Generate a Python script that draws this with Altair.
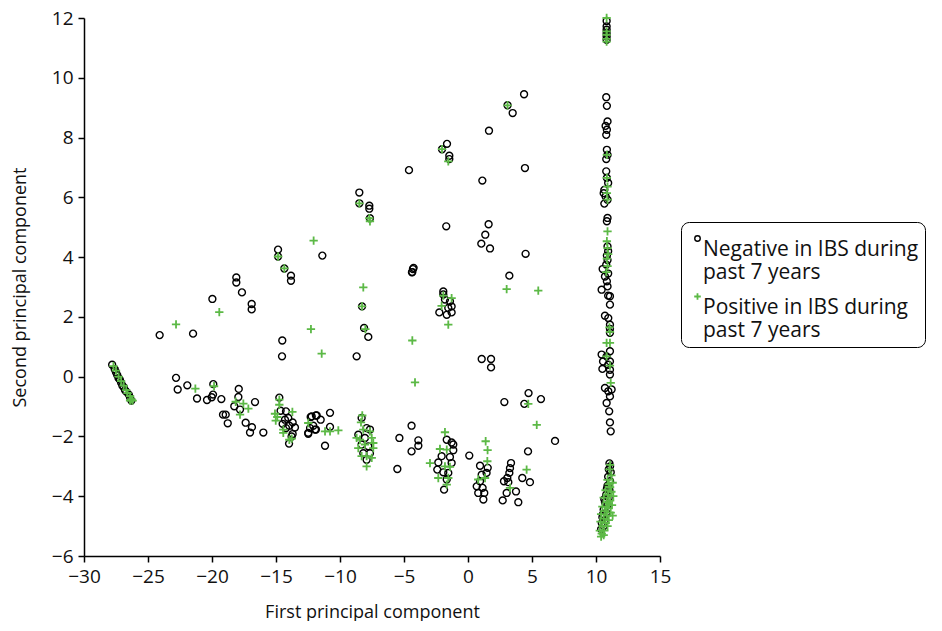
import altair as alt
import pandas as pd

neg_x = [
    -27.8, -27.6, -27.5, -27.4, -27.3, -27.2, -27.1, -27.0, -26.9, -26.8, -26.7, -26.5, -26.4, -26.3,
    -22.81, -22.68, -21.93, -21.17, -20.39, -20.02, -19.9, -19.92, -19.27, -19.14, -18.93, -18.77,
    -17.91, -17.94, -18.26, -17.81, -17.37, -16.88, -17.03, -15.99, -16.64,
    -14.64, -14.22, -14.3, -14.04, -13.7, -13.96, -14.22, -13.52, -13.7, -13.78, -13.98, -14.48, -14.74,
    -12.48, -12.34, -11.95, -11.88, -12.29, -12.21, -11.82, -11.51, -12.09, -11.88, -12.48, -10.78, -10.78, -11.17,
    -8.31, -7.92, -8.57, -8.05, -7.79, -8.18, -7.92, -7.66, -8.31, -7.66,
    -4.41, -5.36, -3.88, -3.88, -4.41, -5.52,
    -1.66, -1.28, -1.15, -2.06, -1.41, -2.32, -1.28, -2.4, -1.93, -1.54, -1.66, -1.87, -1.15,
    0.1,
    0.94, 1.54, 1.07, 0.68, 1.14, 0.8, 1.27, 1.2, 1.45, 0.94,
    3.36, 3.28, 3.23, 3.07, 2.81, 3.15, 3.02, 2.71, 3.75, 3.93, 4.24, 4.84, 4.69,
    4.73, 2.84, 4.4, 5.7, 6.8,
    -1.93, -1.8, -1.41, -1.28, -2.24, -1.66, -1.28, -1.54, -1.93,
    1.07, 1.8, 1.8,
    4.38, 3.49, 3.09, 1.64, -1.64, -2.03, -1.46, -1.46, -4.61, 1.12, 4.45, -1.7, 1.61, 1.35, 1.04, 1.72, 4.5,
    -4.25, -4.38, 3.23,
    -8.49, -8.49, -7.71, -7.71, -7.66, -14.84, -14.84, -18.1, -18.1, -17.66, -16.9, -16.9, -19.97, -24.09,
    -21.48, -13.83, -13.83, -14.35, -11.38, -14.51, -14.53, -8.7, -7.79, -8.12, -8.28, -4.35, -4.3,
    10.83, 10.83, 10.83, 10.83, 10.83, 10.83,
    10.8, 10.85, 10.9, 10.75, 10.85, 10.8, 10.85, 10.9, 10.8, 10.8, 10.85, 10.95, 10.65, 10.6, 10.75, 10.9,
    10.65, 10.9, 10.85, 10.9, 10.95, 10.85, 10.9, 10.8, 10.52, 10.95, 10.7, 10.85, 10.9, 10.95,
    10.44, 11.09, 11.09, 10.7, 10.96, 11.09, 11.09, 11.09, 11.09, 10.44, 10.55, 11.09, 10.5, 11.09, 10.83,
    10.96, 11.09, 10.7, 10.96, 11.22, 11.09, 10.83, 11.03, 11.09, 11.15,
    11.05, 11.1, 11.0, 11.15, 10.95, 11.1, 10.9, 11.05, 10.8, 11.0, 10.7, 10.9, 10.6, 10.8, 10.5, 10.7,
    10.45, 10.6, 10.4, 10.55, 10.65, 10.85,
]
neg_y = [
    0.4, 0.25, 0.15, 0.05, -0.05, -0.1, -0.2, -0.3, -0.35, -0.45, -0.5, -0.6, -0.7, -0.8,
    -0.04, -0.43, -0.29, -0.73, -0.78, -0.69, -0.25, -0.6, -0.75, -1.27, -1.27, -1.56,
    -0.41, -0.68, -0.99, -1.1, -1.54, -1.69, -1.87, -1.87, -0.85,
    -1.14, -1.16, -1.44, -1.38, -1.53, -1.64, -1.72, -1.7, -1.92, -2.0, -2.24, -1.58, -0.7,
    -1.88, -1.72, -1.77, -1.3, -1.35, -1.33, -1.3, -1.44, -1.64, -1.77, -1.91, -1.21, -1.68, -2.31,
    -1.38, -1.72, -1.94, -2.05, -2.33, -2.56, -2.78, -2.56, -2.27, -1.77,
    -1.64, -2.05, -2.13, -2.31, -2.5, -3.09,
    -2.11, -2.2, -2.46, -2.66, -2.69, -2.87, -2.89, -3.11, -3.2, -3.22, -3.44, -3.78, -2.27,
    -2.64,
    -2.98, -3.05, -3.28, -3.67, -3.72, -3.89, -3.89, -4.11, -3.22, -3.5,
    -2.89, -3.06, -3.22, -3.39, -3.5, -3.53, -3.89, -4.14, -3.84, -4.2, -3.39, -3.53, -2.5,
    -0.55, -0.85, -0.91, -0.75, -2.15,
    2.85, 2.58, 2.52, 2.35, 2.15, 2.07, 2.15, 2.3, 2.75,
    0.59, 0.59, 0.31,
    9.45, 8.82, 9.08, 8.23, 7.79, 7.61, 7.39, 7.28, 6.91, 6.56, 6.98, 5.03, 5.1, 4.75, 4.45, 4.29, 4.11,
    3.64, 3.49, 3.38,
    6.16, 5.8, 5.72, 5.62, 5.3, 4.25, 4.02, 3.32, 3.15, 2.82, 2.43, 2.25, 2.6, 1.39,
    1.44, 3.38, 3.21, 3.62, 4.05, 1.21, 0.68, 0.68, 1.33, 1.63, 2.35, 3.5, 3.6,
    11.72, 11.61, 11.49, 11.38, 11.27, 11.9,
    9.35, 9.06, 8.54, 8.39, 8.26, 8.09, 7.59, 7.42, 7.28, 6.87, 6.65, 6.48, 6.25, 6.14, 6.03, 5.92,
    5.79, 5.31, 5.2, 4.36, 4.2, 4.05, 3.9, 3.75, 3.6, 3.45, 3.35, 3.19, 3.02, 2.71,
    2.91, 2.69, 2.41, 2.04, 1.96, 1.74, 1.6, 1.47, 0.85, 0.74, 0.51, 0.51, 0.26, 0.23, 0.68,
    0.4, 0.07, -0.38, -0.49, -0.43, -0.66, -0.88, -1.16, -1.53, -1.83,
    -2.9, -3.0, -3.1, -3.2, -3.35, -3.5, -3.65, -3.8, -3.95, -4.05, -4.2, -4.3, -4.45, -4.55, -4.7, -4.8,
    -4.9, -5.0, -5.1, -4.6, -4.1, -3.75,
]

pos_x = [
    -27.7, -27.5, -27.3, -27.1, -26.9, -26.7, -26.6, -26.4, -26.3, -26.2, -26.4,
    -21.3, -19.84, -18.15, -17.55, -17.16, -17.81,
    -14.74, -14.74, -15.08, -14.9, -15.02, -14.43, -13.72, -13.77, -13.96, -14.43, -12.48,
    -11.17, -10.78, -10.13,
    -8.26, -8.36, -8.18, -8.7, -7.66, -7.52, -8.57, -8.05, -7.4, -8.31, -7.92, -7.52, -7.92, -8.44, -7.4,
    -4.14, -2.97,
    -1.8, -2.19, -1.66, -1.8, -1.41, -2.32, -1.54, -1.66,
    1.38, 1.53, 1.51, 0.8, 1.33,
    3.28, 4.58, 4.71, 5.37,
    -1.93, -1.28, -2.06, -1.54, 3.02, 5.49, -4.35,
    3.09, -2.03, -1.54, -8.49, -7.71, -7.66, -14.84, -14.35, -12.06, -19.43, -22.81, -8.18, -8.28, -8.02,
    -12.27, -11.43,
    10.83, 10.83, 10.83, 10.83, 10.83, 10.85, 10.85, 10.9, 10.85, 10.9, 10.9, 10.85, 10.9, 10.95, 10.85,
    10.9, 10.8, 11.05, 11.09, 10.83, 11.09, 10.83, 11.09, 11.15,
    11.1, 11.05, 11.2, 10.9, 11.3, 11.0, 10.75, 11.2, 10.95, 11.35, 10.6, 11.1, 10.85, 11.25, 10.5, 10.95,
    10.7, 11.15, 10.4, 10.85, 11.3, 10.6, 11.0, 10.35, 10.75, 10.5, 10.9, 10.3, 10.65, 10.45, 10.4, 10.6,
    11.1, 10.8, 11.0,
]
pos_y = [
    0.35, 0.2, 0.0, -0.15, -0.3, -0.45, -0.55, -0.65, -0.75, -0.8, -0.8,
    -0.4, -0.32, -0.84, -0.9, -1.07, -1.27,
    -0.77, -0.94, -1.24, -1.35, -1.47, -1.77, -1.18, -2.07, -2.11, -1.88, -1.55,
    -1.83, -1.83, -1.8,
    -1.3, -1.53, -1.77, -2.05, -1.83, -2.05, -2.39, -2.27, -2.39, -2.66, -2.66, -2.72, -3.0, -2.11, -2.22,
    -0.19, -2.89,
    -1.86, -2.42, -2.44, -3.0, -3.02, -3.39, -3.39, -3.61,
    -2.16, -2.46, -2.83, -3.44, -3.39,
    -3.72, -3.11, -0.91, -1.61,
    2.71, 2.63, 2.37, 1.74, 2.93, 2.88, 1.21,
    9.08, 7.61, 7.2, 5.8, 5.3, 5.2, 4.02, 3.62, 4.55, 2.16, 1.75, 2.99, 2.35, 1.59,
    1.59, 0.77,
    12.0, 11.55, 11.44, 11.21, 11.3, 7.42, 6.65, 6.36, 6.14, 5.92, 4.86, 4.53, 4.3, 4.1, 3.95,
    3.7, 3.5, 1.65, 1.5, 1.13, 1.13, 0.68, 0.37, -0.21,
    -2.95, -3.1, -3.3, -3.45, -3.55, -3.6, -3.8, -3.85, -3.95, -4.0, -4.05, -4.15, -4.2, -4.3, -4.35, -4.4,
    -4.5, -4.55, -4.6, -4.65, -4.65, -4.75, -4.8, -4.85, -4.9, -5.0, -5.0, -5.15, -5.15, -5.25, -5.35, -5.3,
    -3.7, -4.35, -4.25,
]

groups = ["Negative in IBS during|past 7 years", "Positive in IBS during|past 7 years"]

df = pd.concat([
    pd.DataFrame({"x": neg_x, "y": neg_y, "group": groups[0], "ord": 0}),
    pd.DataFrame({"x": pos_x, "y": pos_y, "group": groups[1], "ord": 1}),
], ignore_index=True)

FONT = "Open Sans"
plus_path = "M-1.2,0H1.2M0,-1.2V1.2"

chart = alt.Chart(df).mark_point(filled=False, size=48, opacity=1).encode(
    x=alt.X("x:Q", scale=alt.Scale(domain=[-30, 15], nice=False, zero=False),
            axis=alt.Axis(title="First principal component", values=list(range(-30, 16, 5)))),
    y=alt.Y("y:Q", scale=alt.Scale(domain=[-6, 12], nice=False, zero=False),
            axis=alt.Axis(title="Second principal component", values=list(range(-6, 13, 2)))),
    color=alt.Color("group:N", scale=alt.Scale(domain=groups, range=["#000000", "#5cb946"]),
                    legend=alt.Legend(orient="none", legendX=597, legendY=204, title=None,
                                      labelExpr="split(datum.label, '|')",
                                      labelFontSize=21, labelFont=FONT, labelLimit=400,
                                      labelColor="#111111", labelBaseline="top",
                                      labelOffset=alt.ExprRef(expr="-5"),
                                      symbolSize=30, symbolStrokeWidth=1.2,
                                      strokeColor="#000000", cornerRadius=8, padding=6,
                                      rowPadding=3)),
    shape=alt.Shape("group:N", scale=alt.Scale(domain=groups, range=["circle", plus_path])),
    strokeWidth=alt.StrokeWidth("group:N", scale=alt.Scale(domain=groups, range=[1.4, 1.8]),
                                legend=None),
    order=alt.Order("ord:Q"),
).properties(
    width=576, height=538,
    autosize=alt.AutoSizeParams(type="none"),
    padding={"left": 76, "top": 10, "right": 274, "bottom": 65},
).configure_view(strokeWidth=0).configure_axis(
    grid=False, domainColor="#000000", domainWidth=1.5, tickColor="#000000", tickWidth=1.5,
    tickSize=6, labelFont=FONT, labelFontSize=19, labelColor="#111111", titleFont=FONT,
    titleFontSize=18, titleFontWeight="normal", titleColor="#111111", labelPadding=5,
    labelFlush=False,
).configure_axisX(titlePadding=17).configure_axisY(titlePadding=22)

chart.save("out.html", embed_options={"renderer": "svg", "actions": False})
